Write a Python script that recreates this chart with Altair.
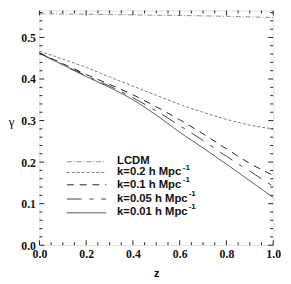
import altair as alt
import pandas as pd

# ---- data ----
z = [0.0, 0.1, 0.2, 0.3, 0.4, 0.5, 0.6, 0.7, 0.8, 0.9, 1.0]
lcdm = [0.557, 0.5565, 0.556, 0.555, 0.5545, 0.5535, 0.553, 0.552, 0.551, 0.5495, 0.548]
k02 = [0.467, 0.448, 0.428, 0.405, 0.383, 0.361, 0.339, 0.320, 0.303, 0.289, 0.280]
k01 = [0.463, 0.437, 0.411, 0.387, 0.362, 0.333, 0.302, 0.268, 0.232, 0.197, 0.168]
k005 = [0.462, 0.435, 0.408, 0.383, 0.355, 0.323, 0.288, 0.252, 0.214, 0.178, 0.142]
k001 = [0.462, 0.434, 0.406, 0.380, 0.350, 0.313, 0.272, 0.234, 0.195, 0.155, 0.115]

series_names = ["LCDM", "k=0.2 h Mpc", "k=0.1 h Mpc", "k=0.05 h Mpc", "k=0.01 h Mpc"]
series_vals = [lcdm, k02, k01, k005, k001]

x_major = [0.0, 0.2, 0.4, 0.6, 0.8, 1.0]
x_minor = [0.05, 0.1, 0.15, 0.25, 0.3, 0.35, 0.45, 0.5, 0.55, 0.65, 0.7, 0.75, 0.85, 0.9, 0.95]
y_major = [0.0, 0.1, 0.2, 0.3, 0.4, 0.5]
y_minor = [0.02, 0.04, 0.06, 0.08, 0.12, 0.14, 0.16, 0.18, 0.22, 0.24, 0.26, 0.28,
           0.32, 0.34, 0.36, 0.38, 0.42, 0.44, 0.46, 0.48, 0.52, 0.54, 0.56]

# ---- styles ----
W, H = 238, 239
SERIF = "'Liberation Serif', 'Times New Roman', Times, serif"
SANS = "'Liberation Sans', Arial, sans-serif"
styles = {
    "LCDM": dict(color="#8a8a8a", dash=[5, 2, 1, 2], width=1.0),
    "k=0.2 h Mpc": dict(color="#7a7a7a", dash=[3, 2], width=1.0),
    "k=0.1 h Mpc": dict(color="#222222", dash=[7, 6], width=1.0),
    "k=0.05 h Mpc": dict(color="#444444", dash=[15, 8, 4, 8], width=1.0),
    "k=0.01 h Mpc": dict(color="#444444", dash=[1, 0], width=1.0),
}

xscale = alt.Scale(domain=[0, 1], nice=False, zero=False)
yscale = alt.Scale(domain=[0, 0.565], nice=False, zero=False)

xaxis = alt.Axis(values=x_major, format=".1f", labelFont=SERIF,
                 labelFontWeight="bold", labelFontSize=12, labelColor="#111",
                 ticks=False, domain=False, grid=False, labelPadding=4,
                 title="z", titleFont=SANS, titleFontWeight="bold",
                 titleFontSize=11, titlePadding=8, labelFlush=False)
yaxis = alt.Axis(values=y_major, format=".1f", labelFont=SERIF,
                 labelFontWeight="bold", labelFontSize=12, labelColor="#111",
                 ticks=False, domain=False, grid=False, labelPadding=4,
                 title="γ", titleFont=SERIF, titleFontWeight="normal",
                 titleFontSize=13, titleAngle=0, titleX=-29, titleY=113,
                 titleAlign="center", titleBaseline="middle", labelFlush=False)

def X(field):
    return alt.X(field, scale=xscale, axis=xaxis)

def Y(field):
    return alt.Y(field, scale=yscale, axis=yaxis)

layers = []
for name, vals in zip(series_names, series_vals):
    st = styles[name]
    df = pd.DataFrame({"z": z, "g": vals})
    layers.append(
        alt.Chart(df).mark_line(color=st["color"], strokeDash=st["dash"],
                                strokeWidth=st["width"], interpolate="monotone").encode(
            x=X("z:Q"), y=Y("g:Q"))
    )

# ---- inside ticks on all four sides ----
def xticks(vals, length):
    d = pd.DataFrame({"v": vals})
    bot = alt.Chart(d).mark_rule(color="#222", strokeWidth=1).encode(
        x=X("v:Q"), y=alt.value(H), y2=alt.value(H - length))
    top = alt.Chart(d).mark_rule(color="#222", strokeWidth=1).encode(
        x=X("v:Q"), y=alt.value(0), y2=alt.value(length))
    return [bot, top]

def yticks(vals, length):
    d = pd.DataFrame({"v": vals})
    left = alt.Chart(d).mark_rule(color="#222", strokeWidth=1).encode(
        y=Y("v:Q"), x=alt.value(0), x2=alt.value(length))
    right = alt.Chart(d).mark_rule(color="#222", strokeWidth=1).encode(
        y=Y("v:Q"), x=alt.value(W), x2=alt.value(W - length))
    return [left, right]

layers += xticks(x_major, 5) + xticks(x_minor, 3) + yticks(y_major, 5) + yticks(y_minor, 3)

# ---- manual legend ----
leg_line_y = [154, 165, 177.5, 192, 206]
leg_text_y = [153, 165, 178, 192, 205]
sup_x = [None, 146, 146, 152, 152]
for name, ly, ty, sx in zip(series_names, leg_line_y, leg_text_y, sup_x):
    st = styles[name]
    d = pd.DataFrame({"label": [name]})
    layers.append(alt.Chart(d).mark_rule(color=st["color"], strokeDash=st["dash"],
                                         strokeWidth=st["width"]).encode(
        x=alt.value(28), x2=alt.value(68), y=alt.value(ly)))
    layers.append(alt.Chart(d).mark_text(align="left", baseline="middle", font=SANS,
                                         fontWeight="bold", fontSize=11.5, color="#111").encode(
        x=alt.value(79), y=alt.value(ty), text="label:N"))
    if sx is not None:
        layers.append(alt.Chart(pd.DataFrame({"s": ["-1"]})).mark_text(
            align="left", baseline="middle", font=SANS, fontWeight="bold",
            fontSize=8, color="#111").encode(x=alt.value(sx), y=alt.value(ty - 5), text="s:N"))

chart = alt.layer(*layers).properties(
    width=W, height=H,
    autosize=alt.AutoSizeParams(type="none"),
    padding={"left": 32, "top": 0, "right": 10, "bottom": 37},
).configure_view(stroke="#111", strokeWidth=1.3).configure(background="white")

chart.save("out.html", embed_options={"renderer": "svg", "actions": False})
